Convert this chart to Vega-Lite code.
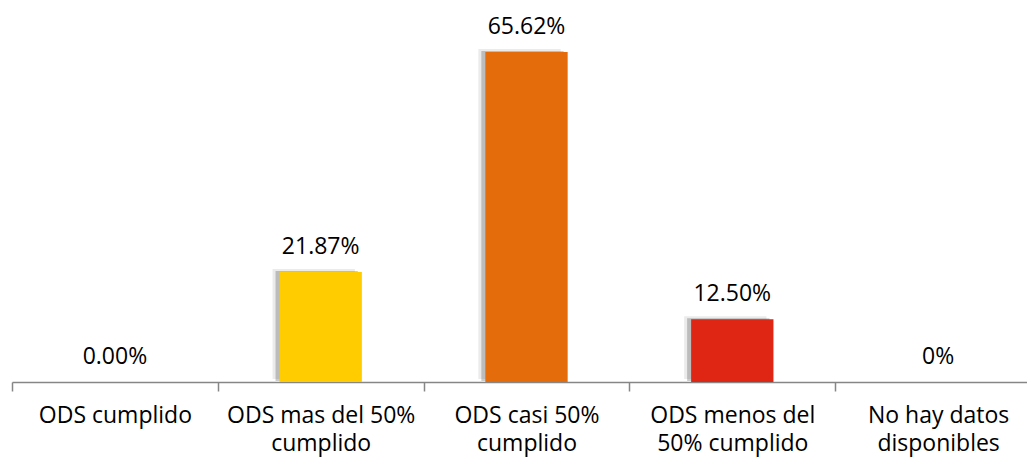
{
  "$schema": "https://vega.github.io/schema/vega-lite/v6.json",
  "width": 1015,
  "height": 352,
  "autosize": {"type": "none"},
  "padding": {"left": 12, "top": 30, "right": 0, "bottom": 77},
  "background": "white",
  "config": {"view": {"stroke": null}, "font": "Open Sans"},
  "data": {
    "values": [
      {"categoria": "ODS cumplido", "valor": 0, "etiqueta": "0.00%"},
      {"categoria": "ODS mas del 50% cumplido", "valor": 21.87, "etiqueta": "21.87%"},
      {"categoria": "ODS casi 50% cumplido", "valor": 65.62, "etiqueta": "65.62%"},
      {"categoria": "ODS menos del 50% cumplido", "valor": 12.5, "etiqueta": "12.50%"},
      {"categoria": "No hay datos disponibles", "valor": 0, "etiqueta": "0%"}
    ]
  },
  "encoding": {
    "x": {
      "field": "categoria",
      "type": "nominal",
      "sort": null,
      "scale": {"range": [0, 1029], "paddingInner": 0, "paddingOuter": 0},
      "axis": {
        "title": null,
        "grid": false,
        "domainColor": "#868686",
        "domainWidth": 1.5,
        "tickColor": "#868686",
        "tickWidth": 1.5,
        "tickSize": 9,
        "tickBand": "extent",
        "labelAngle": 0,
        "labelFont": "Open Sans",
        "labelFontSize": 23,
        "labelColor": "#000000",
        "labelBaseline": "top",
        "labelPadding": 13,
        "labelLineHeight": 28,
        "labelLimit": 0,
        "labelExpr": "datum.label == 'ODS mas del 50% cumplido' ? ['ODS mas del 50%', 'cumplido'] : datum.label == 'ODS casi 50% cumplido' ? ['ODS casi 50%', 'cumplido'] : datum.label == 'ODS menos del 50% cumplido' ? ['ODS menos del', '50% cumplido'] : datum.label == 'No hay datos disponibles' ? ['No hay datos', 'disponibles'] : datum.label"
      }
    },
    "y": {
      "field": "valor",
      "type": "quantitative",
      "scale": {"domain": [0, 70]},
      "axis": null
    }
  },
  "layer": [
    {
      "mark": {"type": "bar", "width": {"band": 0.4}, "color": "#000000", "opacity": 0.08, "xOffset": -7, "yOffset": -3}
    },
    {
      "mark": {"type": "bar", "width": {"band": 0.4}, "color": "#000000", "opacity": 0.2, "xOffset": -4, "yOffset": -1}
    },
    {
      "mark": {"type": "bar", "width": {"band": 0.4}},
      "encoding": {
        "color": {
          "field": "categoria",
          "type": "nominal",
          "scale": {
            "domain": ["ODS cumplido", "ODS mas del 50% cumplido", "ODS casi 50% cumplido", "ODS menos del 50% cumplido", "No hay datos disponibles"],
            "range": ["#00B050", "#FFCC00", "#E46C0A", "#DF2514", "#A6A6A6"]
          },
          "legend": null
        }
      }
    },
    {
      "mark": {"type": "text", "baseline": "middle", "dy": -25, "fontSize": 23, "font": "Open Sans", "color": "#000000"},
      "encoding": {"text": {"field": "etiqueta"}}
    }
  ]
}
